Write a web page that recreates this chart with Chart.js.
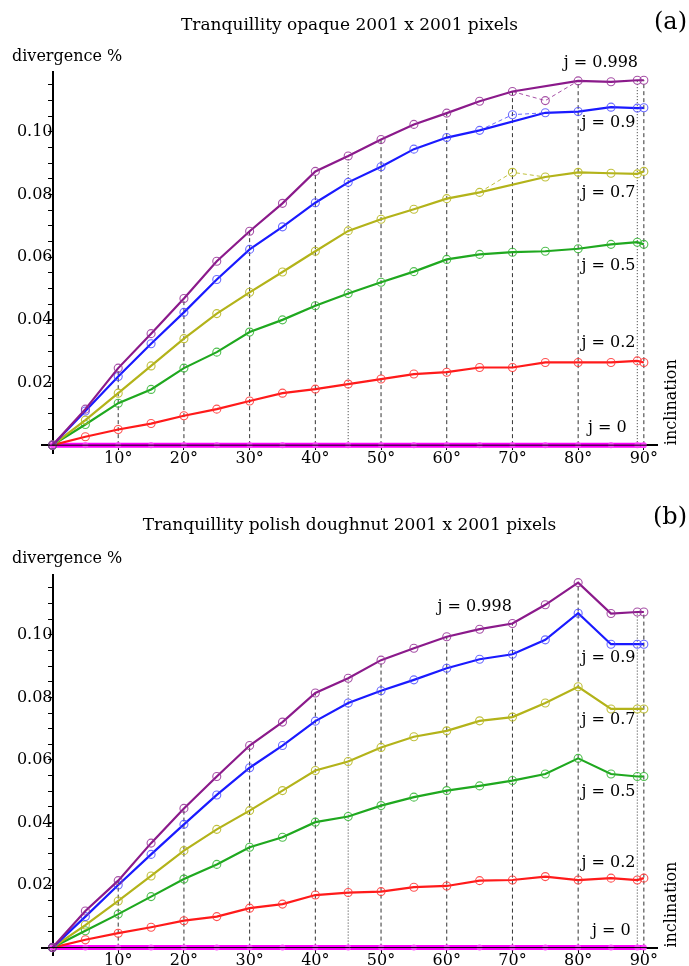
<!DOCTYPE html>
<html>
<head>
<meta charset="utf-8">
<script src="https://cdn.jsdelivr.net/npm/chart.js@4"></script>
<style>
  body { margin: 0; background: #fff; width: 689px; height: 966px; overflow: hidden; }
  .panel { position: absolute; left: 0; }
  canvas { display: block; }
</style>
</head>
<body>
<div class="panel" style="top:0"><canvas id="chartA" width="689" height="503"></canvas></div>
<div class="panel" style="top:503px"><canvas id="chartB" width="689" height="463"></canvas></div>
<script>
// inclination angles (degrees)
const angles = [0, 5, 10, 15, 20, 25, 30, 35, 40, 45, 50, 55, 60, 65, 70, 75, 80, 85, 89, 90];

// (a) opaque, divergence % per spin j (null = outlier, shown on the dashed detour)
const opaque998 = [0, 0.0115, 0.0246, 0.0356, 0.0468, 0.0587, 0.0683, 0.0772, 0.0874, 0.0923, 0.0976, 0.1024, 0.1060, 0.1098, 0.1129, null, 0.1163, 0.1160, 0.1165, 0.1165];
const opaque09 = [0, 0.0109, 0.0219, 0.0324, 0.0424, 0.0529, 0.0625, 0.0697, 0.0774, 0.0839, 0.0889, 0.0945, 0.0982, 0.1005, null, 0.1061, 0.1065, 0.1079, 0.1076, 0.1077];
const opaque07 = [0, 0.0080, 0.0166, 0.0253, 0.0340, 0.0420, 0.0488, 0.0553, 0.0619, 0.0684, 0.0721, 0.0753, 0.0787, 0.0807, null, 0.0856, 0.0871, 0.0868, 0.0866, 0.0874];
const opaque05 = [0, 0.0066, 0.0134, 0.0178, 0.0246, 0.0297, 0.0361, 0.0400, 0.0445, 0.0484, 0.0520, 0.0554, 0.0593, 0.0609, 0.0616, 0.0619, 0.0627, 0.0641, 0.0648, 0.0641];
const opaque02 = [0, 0.0027, 0.0050, 0.0069, 0.0094, 0.0115, 0.0141, 0.0166, 0.0179, 0.0195, 0.0211, 0.0227, 0.0233, 0.0248, 0.0248, 0.0264, 0.0264, 0.0264, 0.0269, 0.0264];
const opaque0 = [0, 0, 0, 0, 0, 0, 0, 0, 0, 0, 0, 0, 0, 0, 0, 0, 0, 0, 0, 0];

// dashed detours through the outliers in (a): [angle, value]
const opaque998Detour = [[70, 0.1129], [75, 0.1100], [80, 0.1163]];
const opaque09Detour = [[65, 0.1005], [70, 0.1055], [75, 0.1061]];
const opaque07Detour = [[65, 0.0807], [70, 0.0871], [75, 0.0856]];

// (b) polish doughnut
const doughnut998 = [0, 0.0117, 0.0214, 0.0334, 0.0445, 0.0547, 0.0646, 0.0721, 0.0814, 0.0861, 0.0919, 0.0957, 0.0994, 0.1018, 0.1036, 0.1096, 0.1167, 0.1068, 0.1073, 0.1073];
const doughnut09 = [0, 0.0099, 0.0200, 0.0298, 0.0394, 0.0488, 0.0575, 0.0646, 0.0724, 0.0782, 0.0821, 0.0856, 0.0893, 0.0922, 0.0938, 0.0984, 0.1069, 0.0970, 0.0970, 0.0970];
const doughnut07 = [0, 0.0072, 0.0149, 0.0229, 0.0310, 0.0378, 0.0438, 0.0502, 0.0566, 0.0595, 0.0640, 0.0674, 0.0693, 0.0725, 0.0737, 0.0782, 0.0834, 0.0763, 0.0763, 0.0763];
const doughnut05 = [0, 0.0054, 0.0107, 0.0163, 0.0219, 0.0266, 0.0321, 0.0353, 0.0401, 0.0419, 0.0454, 0.0481, 0.0502, 0.0517, 0.0534, 0.0555, 0.0605, 0.0555, 0.0547, 0.0547];
const doughnut02 = [0, 0.0025, 0.0046, 0.0065, 0.0086, 0.0099, 0.0126, 0.0139, 0.0168, 0.0176, 0.0179, 0.0193, 0.0197, 0.0214, 0.0216, 0.0227, 0.0216, 0.0222, 0.0216, 0.0222];
const doughnut0 = [0, 0, 0, 0, 0, 0, 0, 0, 0, 0, 0, 0, 0, 0, 0, 0, 0, 0, 0, 0];

// vertical guide lines
const dashedAngles = [10, 20, 30, 40, 50, 60, 70, 80, 90];
const dottedAngles = [45, 89];

// ticks
const xTickValues = [10, 20, 30, 40, 50, 60, 70, 80, 90];
const yTickValues = [0.005, 0.01, 0.015, 0.02, 0.025, 0.03, 0.035, 0.04, 0.045, 0.05, 0.055, 0.06, 0.065, 0.07, 0.075, 0.08, 0.085, 0.09, 0.095, 0.1, 0.105, 0.11, 0.115];
const yLabelValues = [0.02, 0.04, 0.06, 0.08, 0.10];

// series labels: [text, angle, value]
const opaqueLabels = [['j = 0.998', 77.8, 0.122], ['j = 0.9', 80.5, 0.1028], ['j = 0.7', 80.5, 0.0805], ['j = 0.5', 80.5, 0.0572], ['j = 0.2', 80.5, 0.0326], ['j = 0', 81.5, 0.0054]];
const doughnutLabels = [['j = 0.998', 58.6, 0.1089], ['j = 0.9', 80.5, 0.0926], ['j = 0.7', 80.5, 0.0728], ['j = 0.5', 80.5, 0.0498], ['j = 0.2', 80.5, 0.0271], ['j = 0', 82.1, 0.0054]];

const FONT = '"DejaVu Serif", serif';
const colors = { p998: '#8b1a8b', p09: '#1a1aff', p07: '#b3b31a', p05: '#1fa81f', p02: '#ff1a1a', p0: '#ff00ff' };
const markColors = { p998: 'rgba(150,50,150,0.85)', p09: 'rgba(70,70,255,0.8)', p07: 'rgba(185,185,40,0.9)', p05: 'rgba(50,180,50,0.85)', p02: 'rgba(255,50,50,0.85)' };

function curve(values, key) {
    return {
        data: angles.map((a, i) => ({ x: a, y: values[i] })),
        borderColor: colors[key],
        borderWidth: 2.2,
        pointRadius: 4,
        pointBorderWidth: 1.1,
        pointBorderColor: markColors[key],
        pointBackgroundColor: 'rgba(0,0,0,0)',
        spanGaps: true,
        order: 1
    };
}

function detour(pairs, key) {
    return {
        data: pairs.map(p => ({ x: p[0], y: p[1] })),
        borderColor: markColors[key],
        borderWidth: 1,
        borderDash: [4, 3],
        pointRadius: ctx => ctx.dataIndex === 1 ? 4 : 0,
        pointBorderWidth: 1.1,
        pointBorderColor: markColors[key],
        pointBackgroundColor: 'rgba(0,0,0,0)',
        order: 2
    };
}

function dropLines(list, top, dash) {
    return list.map(a => ({
        data: [{ x: a, y: 0 }, { x: a, y: top[angles.indexOf(a)] }],
        borderColor: '#333',
        borderWidth: 1,
        borderDash: dash,
        pointRadius: 0,
        order: 4
    }));
}

function zeroLine(values) {
    return {
        data: angles.map((a, i) => ({ x: a, y: values[i] })),
        borderColor: colors.p0,
        borderWidth: 5,
        pointRadius: 3,
        pointBorderWidth: 0,
        pointBackgroundColor: '#ff40ff',
        order: 3
    };
}

// thin black horizontal axis drawn over the j = 0 band
function axisLine() {
    return {
        data: [{ x: -1.6, y: 0 }, { x: 92, y: 0 }],
        borderColor: '#000',
        borderWidth: 1,
        pointRadius: 0,
        order: 0
    };
}

// text that is not part of the axes: series labels, panel tag, axis names
const panelText = {
    id: 'panelText',
    afterDraw(chart, args, opts) {
        const ctx = chart.ctx;
        const xs = chart.scales.x, ys = chart.scales.y;
        ctx.save();
        ctx.fillStyle = '#000';
        ctx.textBaseline = 'middle';
        ctx.font = '16px ' + FONT;
        ctx.textAlign = 'left';
        opts.labels.forEach(l => ctx.fillText(l[0], xs.getPixelForValue(l[1]), ys.getPixelForValue(l[2])));
        ctx.fillText('divergence %', 12, opts.yNameY);
        ctx.font = '24px ' + FONT;
        ctx.textAlign = 'right';
        ctx.fillText(opts.tag, 687, opts.tagY);
        ctx.font = '16px ' + FONT;
        ctx.textAlign = 'center';
        ctx.translate(xs.right + 15, ys.getPixelForValue(0) - 43);
        ctx.rotate(-Math.PI / 2);
        ctx.fillText('inclination', 0, 0);
        ctx.restore();
    }
};

function makeChart(id, cfg) {
    const datasets = [
        ...dropLines(dashedAngles, cfg.s998, [4, 3]),
        ...dropLines(dottedAngles, cfg.s998, [1, 2]),
        zeroLine(cfg.s0),
        axisLine(),
        ...cfg.detours,
        curve(cfg.s998, 'p998'),
        curve(cfg.s09, 'p09'),
        curve(cfg.s07, 'p07'),
        curve(cfg.s05, 'p05'),
        curve(cfg.s02, 'p02')
    ];
    return new Chart(document.getElementById(id), {
        type: 'line',
        data: { datasets: datasets },
        plugins: [panelText],
        options: {
            responsive: false,
            animation: false,
            layout: { padding: cfg.padding },
            plugins: {
                legend: { display: false },
                tooltip: { enabled: false },
                title: {
                    display: true,
                    text: cfg.title,
                    color: '#000',
                    font: { family: FONT, size: 17, weight: 'normal' },
                    padding: cfg.titlePadding
                },
                panelText: { labels: cfg.labels, tag: cfg.tag, tagY: cfg.tagY, yNameY: cfg.yNameY }
            },
            scales: {
                x: {
                    type: 'linear',
                    min: -1.6,
                    max: 92,
                    position: { y: 0 },
                    border: { color: '#000', width: 2 },
                    grid: { drawOnChartArea: false, tickLength: 4, color: '#000' },
                    afterBuildTicks: s => { s.ticks = xTickValues.map(v => ({ value: v })); },
                    ticks: {
                        autoSkip: false,
                        maxRotation: 0,
                        padding: 0,
                        color: '#000',
                        font: { family: FONT, size: 16 },
                        callback: v => v + '°'
                    }
                },
                y: {
                    type: 'linear',
                    min: -0.0025,
                    max: 0.119,
                    position: { x: 0 },
                    border: { color: '#000', width: 2 },
                    grid: { drawOnChartArea: false, tickLength: 4, color: '#000' },
                    afterBuildTicks: s => { s.ticks = yTickValues.map(v => ({ value: v })); },
                    ticks: {
                        autoSkip: false,
                        padding: 1,
                        color: '#000',
                        font: { family: FONT, size: 16 },
                        callback: v => yLabelValues.some(l => Math.abs(l - v) < 1e-9) ? v.toFixed(2) : ''
                    }
                }
            }
        }
    });
}

makeChart('chartA', {
    title: 'Tranquillity opaque 2001 x 2001 pixels',
    titlePadding: { top: 15, bottom: 37 },
    padding: { left: 42, right: 32, top: 0, bottom: 50 },
    s998: opaque998, s09: opaque09, s07: opaque07, s05: opaque05, s02: opaque02, s0: opaque0,
    detours: [detour(opaque998Detour, 'p998'), detour(opaque09Detour, 'p09'), detour(opaque07Detour, 'p07')],
    labels: opaqueLabels,
    tag: '(a)', tagY: 23, yNameY: 57
});

makeChart('chartB', {
    title: 'Tranquillity polish doughnut 2001 x 2001 pixels',
    titlePadding: { top: 12, bottom: 40 },
    padding: { left: 42, right: 32, top: 0, bottom: 10 },
    s998: doughnut998, s09: doughnut09, s07: doughnut07, s05: doughnut05, s02: doughnut02, s0: doughnut0,
    detours: [],
    labels: doughnutLabels,
    tag: '(b)', tagY: 15, yNameY: 56
});
</script>
</body>
</html>
